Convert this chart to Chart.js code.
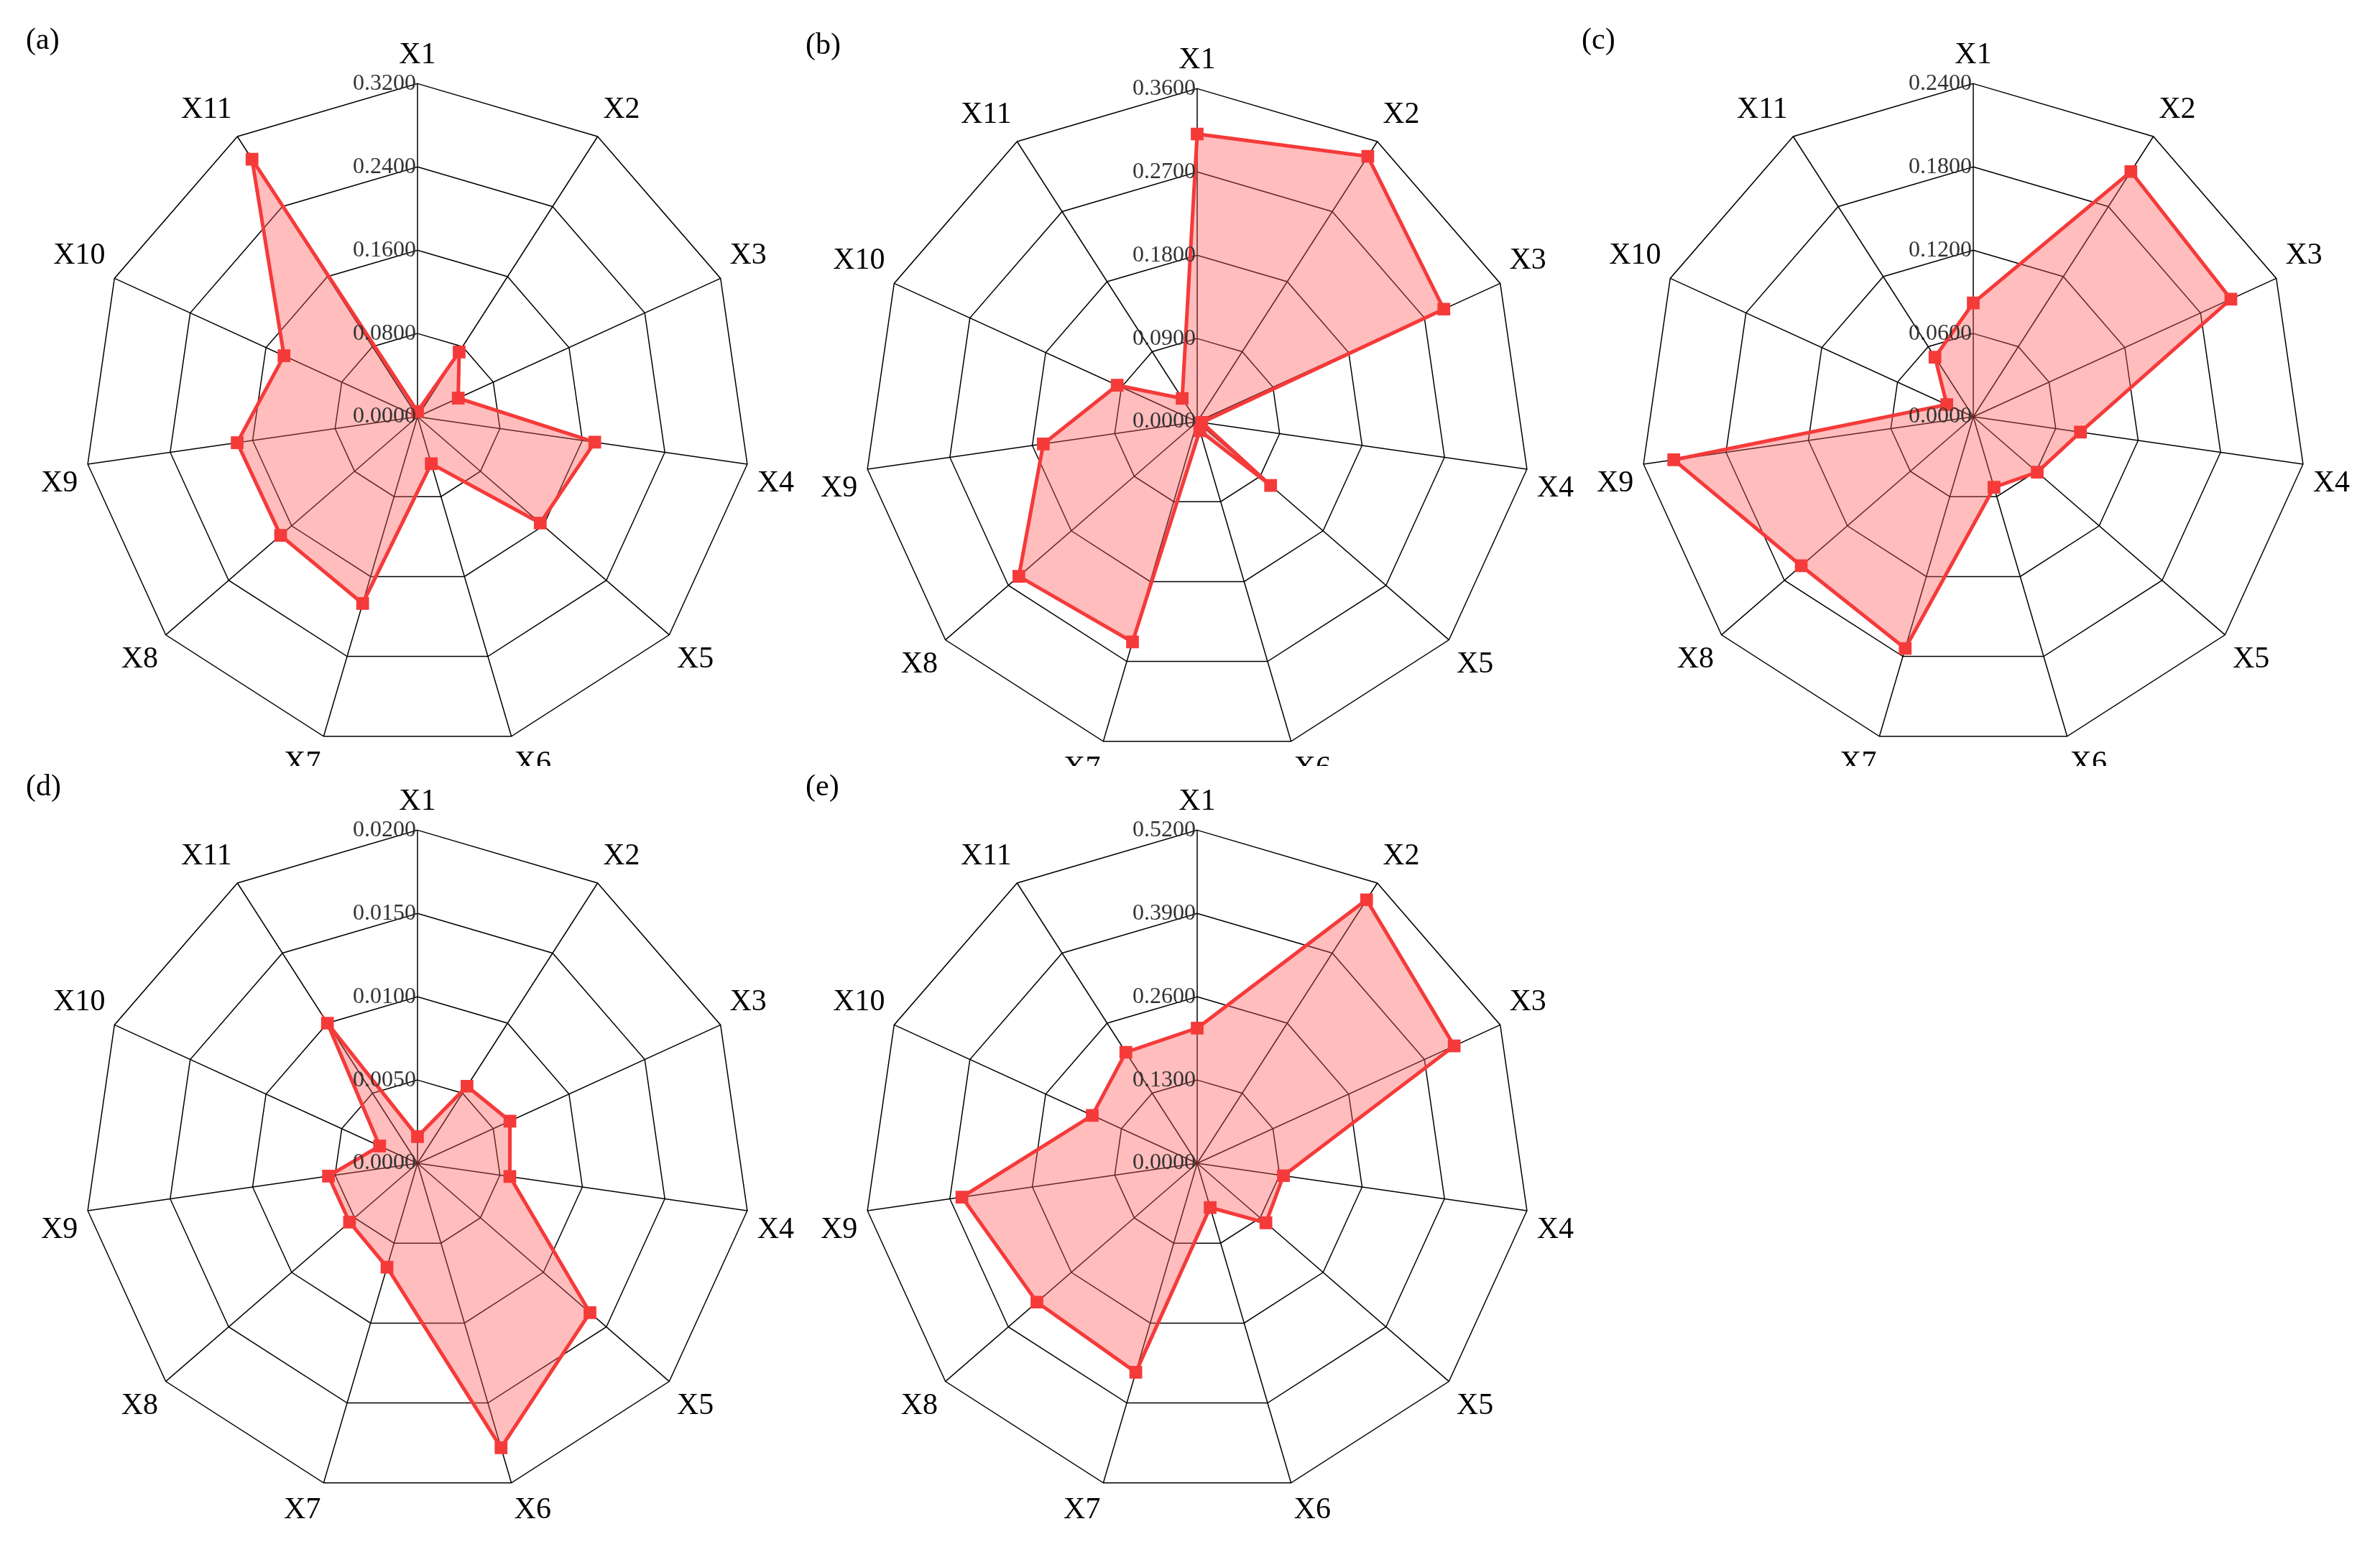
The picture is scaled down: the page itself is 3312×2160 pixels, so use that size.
<!DOCTYPE html>
<html>
<head>
<meta charset="utf-8">
<script src="https://cdn.jsdelivr.net/npm/chart.js@4"></script>
<style>
  body { margin: 0; background: #fff; width: 3312px; height: 2160px; position: relative; overflow: hidden; font-family: "Liberation Serif", serif; }
  .box { position: absolute; overflow: hidden; }
  .tag { position: absolute; font-size: 42px; color: #000; }
</style>
</head>
<body>
<script>
const labels = ['X1', 'X2', 'X3', 'X4', 'X5', 'X6', 'X7', 'X8', 'X9', 'X10', 'X11'];

// values
const valuesA = [0.005, 0.074, 0.043, 0.172, 0.156, 0.047, 0.187, 0.174, 0.175, 0.141, 0.294];
const valuesB = [0.311, 0.341, 0.293, 0.005, 0.105, 0.010, 0.248, 0.255, 0.168, 0.095, 0.030];
const valuesC = [0.082, 0.210, 0.204, 0.078, 0.061, 0.053, 0.174, 0.164, 0.218, 0.021, 0.051];
const valuesD = [0.0016, 0.0055, 0.0061, 0.0056, 0.0137, 0.0178, 0.0065, 0.0054, 0.0054, 0.0025, 0.0100];
const valuesE = [0.211, 0.489, 0.441, 0.136, 0.142, 0.072, 0.340, 0.331, 0.371, 0.180, 0.206];

const maxA = 0.32, maxB = 0.36, maxC = 0.24, maxD = 0.02, maxE = 0.52;

// panel placement: [tag, values, max, centerX, centerY, clipHeight]
const panels = [
  ['(a)', valuesA, maxA, 581, 570, 1066],
  ['(b)', valuesB, maxB, 1666, 577, 1066],
  ['(c)', valuesC, maxC, 2746, 570, 1066],
  ['(d)', valuesD, maxD, 581, 1609, 1100],
  ['(e)', valuesE, maxE, 1666, 1609, 1100],
];

// draws tick labels to the left of the X1 axis
const tickLabelPlugin = {
  id: 'tickLabels',
  afterDatasetsDraw(chart) {
    const s = chart.scales.r;
    const ctx = chart.ctx;
    ctx.save();
    ctx.font = '32px "Liberation Serif", serif';
    ctx.fillStyle = '#333';
    ctx.textAlign = 'right';
    ctx.textBaseline = 'middle';
    s.ticks.forEach(t => {
      const d = s.getDistanceFromCenterForValue(t.value);
      ctx.fillText(t.value.toFixed(4), s.xCenter - 2, s.yCenter - d);
    });
    ctx.restore();
  }
};

const size = 1100;
panels.forEach(([tag, values, max, cx, cy, clipH], i) => {
  const box = document.createElement('div');
  box.className = 'box';
  box.style.left = (cx - size / 2) + 'px';
  box.style.top = (cy - size / 2) + 'px';
  box.style.width = size + 'px';
  box.style.height = (i < 3 ? clipH - (cy - size / 2) : size) + 'px';
  const canvas = document.createElement('canvas');
  canvas.width = size;
  canvas.height = size;
  canvas.style.width = size + 'px';
  canvas.style.height = size + 'px';
  box.appendChild(canvas);
  document.body.appendChild(box);

  const t = document.createElement('div');
  t.className = 'tag';
  t.textContent = tag;
  t.style.left = (cx - 545) + 'px';
  t.style.top = (cy - 540) + 'px';
  document.body.appendChild(t);

  new Chart(canvas, {
    type: 'radar',
    data: {
      labels: labels,
      datasets: [{
        data: values,
        borderColor: '#f53a3a',
        backgroundColor: 'rgba(255, 90, 90, 0.4)',
        borderWidth: 5,
        pointStyle: 'rect',
        pointRadius: 9,
        pointBackgroundColor: '#f53a3a',
        pointBorderColor: '#f53a3a',
        fill: true
      }]
    },
    options: {
      responsive: false,
      animation: false,
      layout: { padding: 22 },
      plugins: { legend: { display: false }, tooltip: { enabled: false } },
      scales: {
        r: {
          min: 0,
          max: max,
          ticks: { display: false, stepSize: max / 4 },
          grid: { color: '#000', lineWidth: 1.5 },
          angleLines: { color: '#000', lineWidth: 1.5 },
          pointLabels: {
            font: { family: '"Liberation Serif", serif', size: 42 },
            color: '#000',
            padding: 14
          }
        }
      }
    },
    plugins: [tickLabelPlugin]
  });
});
</script>
</body>
</html>
